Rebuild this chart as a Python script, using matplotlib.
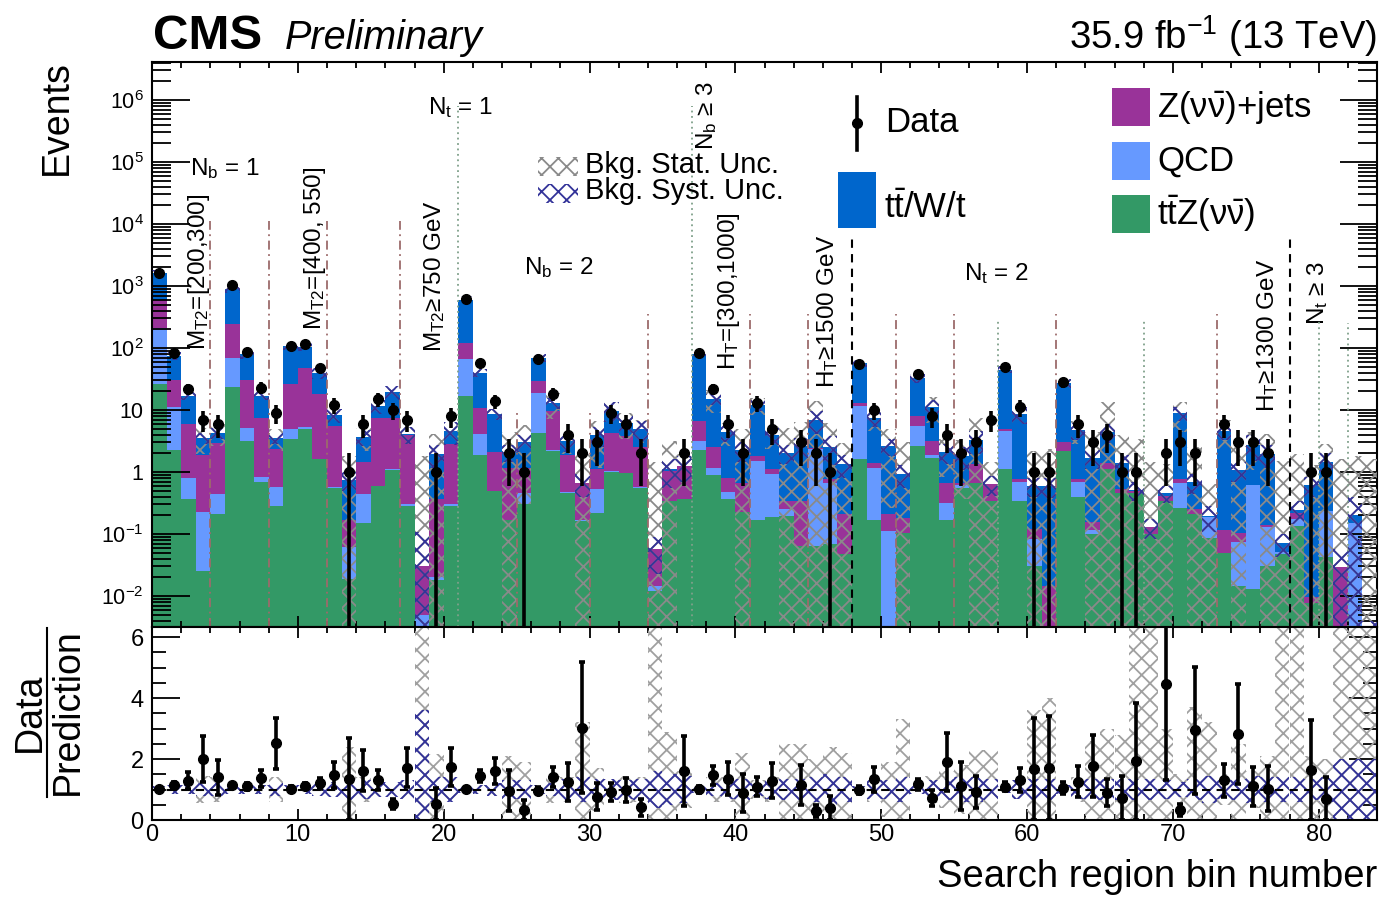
import numpy as np
import matplotlib
matplotlib.use("Agg")
import matplotlib.pyplot as plt
from matplotlib.patches import Rectangle
from matplotlib.lines import Line2D
from matplotlib.ticker import FixedLocator, LogLocator, MultipleLocator, FuncFormatter, NullFormatter

plt.rcParams["font.family"] = ["Liberation Sans", "DejaVu Sans"]
plt.rcParams["mathtext.fontset"] = "custom"
plt.rcParams["mathtext.rm"] = "Liberation Sans"
plt.rcParams["mathtext.it"] = "Liberation Sans:italic"
plt.rcParams["mathtext.bf"] = "Liberation Sans:bold"
plt.rcParams["mathtext.default"] = "regular"
plt.rcParams["hatch.linewidth"] = 1.3

# -------------------------
# data (84 search bins)
# -------------------------
ttz = [26, 2.3, 0.36, 0.025, 0.21, 23.5, 3.2, 0.69, 0.28, 3.4,
       4.9, 1.6, 0.55, 0.019, 0.148, 0.59, 1.07, 0.28, 0.0, 0.018,
       0.28, 17, 1.86, 0.49, 0.17, 0.30, 4.3, 2.2, 0.45, 0.16,
       0.22, 1.0, 0.95, 0.56, 0.012, 0.34, 0.36, 2.3, 0.88, 0.36,
       0.23, 0.17, 0.19, 0.195, 0.064, 0.065, 0.068, 0.047, 1.6, 0.17,
       0.0, 0.105, 2.6, 1.7, 0.17, 0.56, 0.67, 0.34, 1.13, 0.34,
       0.03, 0.0, 2.2, 0.40, 0.10, 1.1, 0.45, 0.45, 0.10, 0.34,
       0.26, 0.21, 0.087, 0.05, 0.0145, 0.013, 0.03, 0.047, 0.135, 0.0076,
       0.042, 0.0, 0.0, 0.0]
qcd = [187, 8.7, 0.45, 0.2, 0.23, 46.5, 2.0, 0.15, 0.30, 1.5,
       0.5, 0.02, 0.02, 0.043, 0.30, 0.01, 0.03, 0.02, 0.005, 0.002,
       0.02, 49, 2.24, 0.01, 0.0, 0.16, 14.7, 0.1, 0.02, 0.01,
       0.32, 0.05, 0.02, 0.01, 0.0025, 0.0, 0.0, 0.9, 0.29, 0.11,
       0.0, 1.33, 0.73, 0.06, 0.0, 2.3, 0.6, 0.0, 10, 1.0,
       0.11, 0.0, 2.9, 0.18, 0.15, 0.05, 0.0, 0.0, 3.4, 0.35,
       0.054, 0.0, 0.0, 0.28, 0.016, 0.0, 0.0, 0.0, 0.0, 0.0,
       0.40, 0.0, 0.10, 0.0, 0.06, 0.6, 0.10, 0.005, 0.04, 0.0,
       0.19, 0.0, 0.15, 0.002]
znn = [392, 19, 5.2, 1.67, 2.46, 177, 24.8, 6.5, 1.8, 21,
       41.6, 16.7, 4.9, 0.104, 1.0, 6.9, 6.2, 3.6, 0.025, 0.34,
       2.5, 53, 6.5, 1.6, 1.0, 0.71, 10.4, 7.3, 1.43, 0.49,
       0.58, 3.25, 2.9, 2.0, 0.042, 0.7, 0.88, 3.4, 1.33, 0.34,
       0.44, 0.3, 0.18, 0.085, 0.28, 0.05, 0.09, 0.16, 1.4, 0.24,
       0.10, 0.075, 2.5, 1.3, 0.35, 0.05, 0.66, 0.3, 0.4, 0.07,
       0.036, 0.0145, 0.8, 0.08, 0.04, 0.28, 0.08, 0.04, 0.03, 0.07,
       0.1, 0.04, 0.0, 0.065, 0.03, 0.0, 0.01, 0.0, 0.04, 0.002,
       0.0, 0.029, 0.0, 0.0]
ttw = [1025, 44, 11, 1.6, 1.4, 663, 49, 9.5, 1.2, 82,
       57, 20.7, 2.7, 0.58, 2.25, 3.9, 11.9, 0.17, 0.0, 1.56,
       1.8, 486, 29.4, 6.6, 0.91, 1.83, 40.6, 3.2, 1.3, 0.0,
       2.78, 5.5, 2.3, 2.3, 0.0, 0.06, 0.0, 74.4, 12.5, 3.6,
       1.6, 10.1, 2.8, 1.7, 2.26, 4.5, 1.8, 1.12, 44, 6.1,
       2.4, 0.74, 24.5, 7.9, 1.43, 1.14, 1.93, 0.0, 40, 7.7,
       0.48, 0.57, 24, 4.0, 1.54, 3.1, 0.86, 0.03, 0.0, 0.04,
       8.2, 0.43, 0.01, 4.5, 0.955, 2.1, 1.8, 0.02, 0.03, 0.6,
       1.2, 0.0, 0.05, 0.0]
data = [1650, 84, 22, 7, 6, 1040, 87, 23, 9, 109,
        115, 47, 12, 1, 6, 15, 10, 7, 0, 1,
        8, 625, 58, 14, 2, 1, 67, 18, 4, 2,
        3, 9, 6, 2, 0, 0, 2, 82, 22, 6,
        2, 13, 5, 0, 3, 2, 1, 0, 56, 10,
        0, 0, 38, 8, 4, 2, 3, 7, 49, 11,
        1, 1, 28, 6, 3, 4, 1, 1, 0, 2,
        3, 2, 0, 6, 3, 3, 2, 0, 0, 1,
        1, 0, 0, 0]
# relative background uncertainties
stat_unc = [0.03, 0.08, 0.15, 0.45, 0.4, 0.04, 0.1, 0.15, 0.4, 0.08,
            0.08, 0.12, 0.2, 1.4, 0.4, 0.2, 0.15, 0.3, 60, 1.15,
            0.35, 0.04, 0.15, 0.2, 1.1, 0.9, 0.1, 0.45, 0.4, 2.2,
            0.7, 0.35, 0.45, 0.4, 25, 1.9, 0.6, 0.08, 0.4, 0.4,
            1.2, 0.3, 0.4, 1.5, 1.5, 1.0, 1.4, 1.2, 0.12, 0.4,
            0.9, 2.3, 0.12, 0.45, 0.6, 0.8, 1.3, 1.3, 0.1, 0.3,
            2.6, 3.0, 0.15, 0.4, 1.6, 2.0, 1.8, 5.5, 10, 2.0,
            0.5, 2.7, 2.2, 0.5, 1.5, 0.6, 1.1, 20, 7, 1.1,
            1.0, 55, 8, 800]
syst_unc = [0.12, 0.15, 0.15, 0.2, 0.2, 0.15, 0.15, 0.15, 0.2, 0.15,
            0.15, 0.2, 0.25, 0.35, 0.3, 0.25, 0.25, 0.3, 2.6, 0.4,
            0.4, 0.12, 0.15, 0.2, 0.3, 0.3, 0.15, 0.2, 0.35, 0.4,
            0.35, 0.35, 0.3, 0.35, 0.6, 0.5, 0.45, 0.1, 0.2, 0.3,
            0.35, 0.2, 0.3, 0.35, 0.35, 0.4, 0.5, 0.4, 0.12, 0.3,
            0.3, 0.4, 0.15, 0.3, 0.35, 0.4, 0.4, 0.35, 0.12, 0.3,
            0.35, 0.35, 0.15, 0.3, 0.35, 0.35, 0.35, 0.35, 0.35, 0.3,
            0.25, 0.35, 0.45, 0.3, 0.35, 0.45, 0.4, 0.4, 0.4, 0.35,
            0.4, 1.0, 1.0, 1.0]

# region separators
sep_dashdot = [4, 8, 12, 17, 25, 30, 34, 41, 45, 51, 55, 62, 73]
sep_dashdot_top = [1.1e4, 1.1e4, 1.1e4, 1.1e4, 10, 10, 350, 350, 350, 350, 350, 350, 350]
sep_dotted = [21, 37, 58, 68, 80, 82]
sep_dotted_top = [8e5, 8e5, 280, 280, 280, 250]
sep_dashed = [48, 78]
sep_dashed_top = [6000, 6000]

C_TTZ = "#339966"
C_QCD = "#6699ff"
C_ZNN = "#993399"
C_TTW = "#0066cc"
C_STAT = "#8a8a8a"
C_STAT_R = "#a0a0a0"
C_SYST = "#333399"

W, H = 1381, 897
def fx(p):
    return p / W
def fy(p):
    return 1 - p / H

ttz, qcd, znn, ttw = map(np.array, (ttz, qcd, znn, ttw))
data = np.array(data, dtype=float)
stat_unc = np.array(stat_unc)
syst_unc = np.array(syst_unc)
nbins = len(data)
edges = np.arange(nbins + 1)
centers = edges[:-1] + 0.5
pred = ttz + qcd + znn + ttw

YMIN, YMAX = 3.16e-3, 4.1e6
fig = plt.figure(figsize=(W / 100, H / 100), dpi=100)
ax = fig.add_axes([fx(152), fy(627), (1377 - 152) / W, (627 - 62) / H])
axr = fig.add_axes([fx(152), fy(820), (1377 - 152) / W, (820 - 627) / H])

# -------------------------
# stacked backgrounds
# -------------------------
bottom = np.full(nbins, 1e-5)
for vals, col in [(ttz, C_TTZ), (qcd, C_QCD), (znn, C_ZNN), (ttw, C_TTW)]:
    top = bottom + vals
    ax.stairs(top, edges, baseline=bottom, fill=True, color=col, lw=0, zorder=1)
    bottom = top

# uncertainty hatches
for unc, col, colr in [(stat_unc, C_STAT, C_STAT_R), (syst_unc, C_SYST, C_SYST)]:
    lo = np.maximum(pred * (1 - unc), 1e-6)
    hi = pred * (1 + unc)
    ax.bar(centers, hi - lo, bottom=lo, width=1.0, fill=False, hatch="xx",
           edgecolor=col, linewidth=0, zorder=3)
    axr.bar(centers, 2 * unc, bottom=1 - unc, width=1.0, fill=False, hatch="xx",
            edgecolor=colr, linewidth=0, zorder=2)

# separators
ax.vlines(sep_dashdot, YMIN, sep_dashdot_top, colors="#9c6b6b", lw=1.3,
          linestyles=(0, (5, 2.5, 1, 2.5)), zorder=4)
ax.vlines(sep_dotted, YMIN, sep_dotted_top, colors="#7fa08a", lw=1.3,
          linestyles=(0, (1, 2)), zorder=4)
ax.vlines(sep_dashed, YMIN, sep_dashed_top, colors="black", lw=1.5,
          linestyles=(0, (4, 3)), zorder=4)

# data
m = data > 0
err = np.sqrt(data[m])
low = data[m] - np.maximum(data[m] - err, 1e-7)
ax.errorbar(centers[m], data[m], yerr=[low, err], fmt="o", color="black",
            ms=7, elinewidth=2.6, capsize=0, zorder=6)

ratio = data[m] / pred[m]
rerr = np.sqrt(data[m]) / pred[m]
axr.errorbar(centers[m], ratio, yerr=rerr, fmt="o", color="black",
             ms=7, elinewidth=2.6, capsize=2.5, capthick=2.6, zorder=6)
axr.axhline(1.0, color="black", lw=1.5, ls=(0, (4, 3)), zorder=3)

# -------------------------
# axes styling
# -------------------------
ax.set_yscale("log")
ax.set_xlim(0, 84)
ax.set_ylim(YMIN, YMAX)
axr.set_xlim(0, 84)
axr.set_ylim(0, 6.33)

def logfmt(v, pos):
    k = int(round(np.log10(v)))
    if k == 0:
        return "1"
    if k == 1:
        return "10"
    return r"$10^{%d}$" % k

ax.yaxis.set_major_locator(FixedLocator([10.0 ** k for k in range(-2, 7)]))
ax.yaxis.set_minor_locator(LogLocator(base=10, subs=np.arange(2, 10), numticks=40))
ax.yaxis.set_major_formatter(FuncFormatter(logfmt))
ax.yaxis.set_minor_formatter(NullFormatter())
for a in (ax, axr):
    a.xaxis.set_major_locator(MultipleLocator(10))
    a.xaxis.set_minor_locator(MultipleLocator(2))
    for s in a.spines.values():
        s.set_linewidth(1.5)
    a.tick_params(which="both", direction="in", top=True, right=True, width=1.3)
    a.tick_params(axis="x", which="major", length=8)
    a.tick_params(axis="x", which="minor", length=4.5)
ax.tick_params(axis="y", which="major", length=27, labelsize=15.5, pad=6)
ax.tick_params(axis="y", which="minor", length=14)
ax.tick_params(axis="x", labelbottom=False)
axr.yaxis.set_major_locator(MultipleLocator(2))
axr.yaxis.set_minor_locator(MultipleLocator(0.5))
axr.tick_params(axis="y", which="major", length=20, labelsize=17, pad=6)
axr.tick_params(axis="y", which="minor", length=10)
axr.tick_params(axis="x", labelsize=17, pad=3)

# -------------------------
# region labels
# -------------------------
rs = 17.5
ax.text(2.6, 10 ** 4.79, r"N$_{b}$ = 1", fontsize=rs, va="baseline")
ax.text(18.9, 10 ** 5.77, r"N$_{t}$ = 1", fontsize=rs, va="baseline")
ax.text(25.5, 10 ** 3.19, r"N$_{b}$ = 2", fontsize=rs, va="baseline")
ax.text(55.7, 10 ** 3.10, r"N$_{t}$ = 2", fontsize=rs, va="baseline")
rot_labels = [
    (3.2, 93, r"M$_{T2}$=[200,300]"),
    (11.2, 195, r"M$_{T2}$=[400, 550]"),
    (19.4, 86, r"M$_{T2}$≥750 GeV"),
    (38.0, 10 ** 5.19, r"N$_{b}$ ≥ 3"),
    (39.6, 44, r"H$_{T}$=[300,1000]"),
    (46.3, 23, r"H$_{T}$≥1500 GeV"),
    (76.5, 9.3, r"H$_{T}$≥1300 GeV"),
    (79.9, 235, r"N$_{t}$ ≥ 3"),
]
for xx, yy, s in rot_labels:
    ax.text(xx, yy, s, rotation=90, fontsize=rs, ha="center", va="bottom")

# -------------------------
# legend (drawn by hand, ROOT style)
# -------------------------
fig.add_artist(Rectangle((fx(538), fy(176)), 40 / W, 19 / H, fill=False, hatch="xx",
                         edgecolor=C_STAT, lw=0, transform=fig.transFigure))
fig.add_artist(Rectangle((fx(538), fy(203)), 40 / W, 19 / H, fill=False, hatch="xx",
                         edgecolor=C_SYST, lw=0, transform=fig.transFigure))
fig.text(fx(585), fy(165), "Bkg. Stat. Unc.", fontsize=21, va="center")
fig.text(fx(585), fy(191), "Bkg. Syst. Unc.", fontsize=21, va="center")

fig.add_artist(Line2D([fx(857), fx(857)], [fy(97), fy(150)], color="black", lw=2.6,
                      transform=fig.transFigure))
fig.add_artist(Line2D([fx(857)], [fy(123)], marker="o", ms=7, color="black",
                      transform=fig.transFigure))
fig.text(fx(885), fy(123), "Data", fontsize=25, va="center")

fig.add_artist(Rectangle((fx(838), fy(228)), 38 / W, 56 / H, color=C_TTW, lw=0,
                         transform=fig.transFigure))
fig.text(fx(884), fy(208), r"t$\bar{t}$/W/t", fontsize=25, va="center")

for ytop, col, lab in [(88, C_ZNN, r"Z($\nu\bar{\nu}$)+jets"),
                       (142, C_QCD, "QCD"),
                       (195, C_TTZ, r"t$\bar{t}$Z($\nu\bar{\nu}$)")]:
    fig.add_artist(Rectangle((fx(1112), fy(ytop + 38)), 38 / W, 38 / H, color=col, lw=0,
                             transform=fig.transFigure))
    fig.text(fx(1157), fy(ytop + 19), lab, fontsize=25, va="center")

# -------------------------
# titles and axis labels
# -------------------------
fig.text(fx(153), fy(49), "CMS", fontsize=35.5, fontweight="bold", va="baseline")
fig.text(fx(285), fy(49), "Preliminary", fontsize=28.5, style="italic", va="baseline")
fig.text(fx(1377), fy(49), r"35.9 fb$^{-1}$ (13 TeV)", fontsize=27.5, ha="right", va="baseline")
fig.text(fx(57), fy(60), "Events", fontsize=27, rotation=90, ha="center", va="top")
fig.text(fx(1377), fy(877), "Search region bin number", fontsize=27.5, ha="right", va="center")
fig.text(fx(30), fy(712), "Data", fontsize=27, rotation=90, ha="center", va="center")
fig.text(fx(68), fy(712), "Prediction", fontsize=27, rotation=90, ha="center", va="center")
fig.add_artist(Line2D([fx(47), fx(47)], [fy(628), fy(797)], color="black", lw=1.5,
                      transform=fig.transFigure))

fig.savefig("out.png", dpi=100)
